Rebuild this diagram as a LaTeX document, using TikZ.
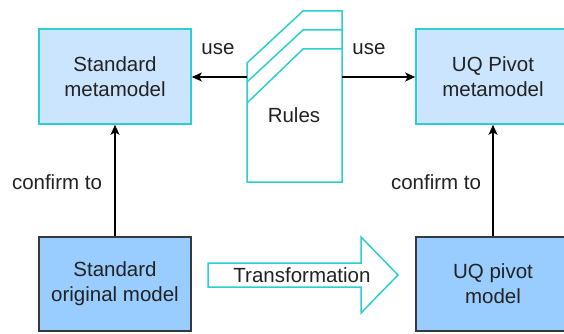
\documentclass[tikz,border=0pt]{standalone}
\usepackage{fontspec}
\setmainfont{Liberation Sans}
\usetikzlibrary{arrows.meta}
\definecolor{metafill}{HTML}{CCE5FF}
\definecolor{modelfill}{HTML}{99CCFF}
\definecolor{teal}{HTML}{2CCFCF}
\definecolor{edge}{HTML}{36393D}
\definecolor{ink}{HTML}{222222}
\tikzset{
  lbl/.style={font=\fontsize{20.5}{25}\selectfont, text=ink, align=center, inner sep=0pt},
  metabox/.style={lbl, draw=teal, fill=metafill, line width=1.6pt,
    minimum width=152pt, minimum height=95pt},
  modelbox/.style={lbl, draw=edge, fill=modelfill, line width=1.6pt,
    minimum width=152pt, minimum height=94pt},
  conn/.style={draw=black, line width=1.4pt,
    -{Stealth[length=10pt,width=9pt,inset=2.5pt]}},
  outline/.style={draw=teal, fill=white, line width=1.5pt, line join=miter}
}
\begin{document}
\begin{tikzpicture}[x=1pt,y=-1pt]
\useasboundingbox (0,0) rectangle (564,334);
\clip (0,0) rectangle (564,334);
\fill[white] (0,0) rectangle (564,334);

% metamodels and models
\node[metabox]  (stdmeta)  at (115,76.5) {Standard\\metamodel};
\node[metabox, minimum width=154pt] (uqmeta) at (493,76.5) {UQ Pivot\\metamodel};
\node[modelbox] (stdmodel) at (115,284) {Standard\\original model};
\node[modelbox, minimum width=154pt] (uqmodel) at (493,284) {UQ pivot\\model};

% stacked rule sheets
\draw[outline] (303,11) -- (342,11) -- (342,182) -- (247,182) -- (247,63) -- cycle;
\draw[outline, fill=none] (247,82) -- (303,30) -- (342,30);
\draw[outline, fill=none] (247,103) -- (303,49) -- (342,49);
\node[lbl] (rules) at (294,115) {Rules};
\coordinate (rulesL) at (247,77);
\coordinate (rulesR) at (342,77);

% usage of rules
\draw[conn] (rulesL) -- (rulesL -| stdmeta.east);
\draw[conn] (rulesR) -- (rulesR -| uqmeta.west);
\node[lbl] (useL) at (218,49) {use};
\node[lbl] (useR) at (369,49) {use};

% conformance
\draw[conn] (stdmodel.north) -- (stdmeta.south);
\draw[conn] (uqmodel.north) -- (uqmeta.south);
\node[lbl] (confL) at (57,182) {confirm to};
\node[lbl] (confR) at (436,182) {confirm to};

% transformation arrow
\draw[outline] (208,263) -- (361,263) -- (361,237) -- (398,275)
  -- (361,313) -- (361,287) -- (208,287) -- cycle;
\node[lbl] (trans) at (302,275) {Transformation};
\end{tikzpicture}
\end{document}
